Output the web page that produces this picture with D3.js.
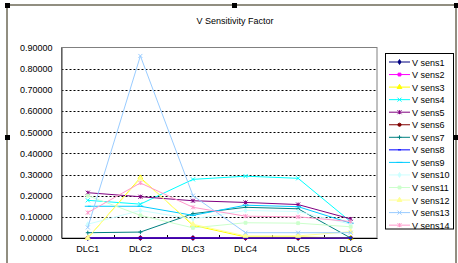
<!DOCTYPE html>
<html>
<head>
<meta charset="utf-8">
<script src="https://cdn.jsdelivr.net/npm/d3@7"></script>
<style>
  body { margin: 0; background: #fff; }
  text { font-family: "Liberation Sans", Arial, sans-serif; font-size: 9px; fill: #000; }
</style>
</head>
<body>
<div id="chart"></div>
<script>
var categories = ["DLC1", "DLC2", "DLC3", "DLC4", "DLC5", "DLC6"];
var seriesNames = ["V sens1", "V sens2", "V sens3", "V sens4", "V sens5", "V sens6", "V sens7",
                   "V sens8", "V sens9", "V sens10", "V sens11", "V sens12", "V sens13", "V sens14"];
var sens1  = [0, 0, 0, 0, 0, 0];
var sens2  = [0, 0, 0, 0, 0, 0];
var sens3  = [0, 0.285, 0.06, 0.005, 0.005, 0];
var sens4  = [0.178, 0.16, 0.277, 0.292, 0.282, 0.077];
var sens5  = [0.214, 0.195, 0.176, 0.168, 0.158, 0.09];
var sens6  = [0, 0, 0, 0, 0, 0];
var sens7  = [0.025, 0.028, 0.115, 0.145, 0.138, 0];
var sens8  = [0, 0, 0, 0, 0, 0];
var sens9  = [0.15, 0.15, 0.107, 0.155, 0.148, 0.07];
var sens10 = [0.065, 0.13, 0.09, 0.13, 0.125, 0.065];
var sens11 = [0.2, 0.107, 0.048, 0.072, 0.07, 0.053];
var sens12 = [0, 0.28, 0.065, 0.01, 0.01, 0.03];
var sens13 = [0.05, 0.86, 0.2, 0.025, 0.025, 0.025];
var sens14 = [0.12, 0.26, 0.145, 0.103, 0.1, 0.078];
var yTicks = [0, 0.1, 0.2, 0.3, 0.4, 0.5, 0.6, 0.7, 0.8, 0.9];

var seriesValues = [sens1, sens2, sens3, sens4, sens5, sens6, sens7,
                    sens8, sens9, sens10, sens11, sens12, sens13, sens14];
var colors = ["#000080", "#ff00ff", "#ffff00", "#00ffff", "#800080", "#800000", "#008080",
              "#0000ff", "#00ccff", "#ccffff", "#ccffcc", "#ffff99", "#99ccff", "#ff99cc"];
var markers = ["diamond", "square", "triangle", "x", "star", "circle", "plus",
               "dash", "longdash", "diamond", "square", "triangle", "x", "star"];

var width = 458, height = 263;
var svg = d3.select("#chart").append("svg")
    .attr("width", width)
    .attr("height", height);

// chart frame (selected Excel chart)
svg.append("rect").attr("x", 7).attr("y", 5).attr("width", 449).attr("height", 262)
    .attr("fill", "#fff").attr("stroke", "#6e6a58").attr("stroke-width", 1.5);

var plot = { left: 61.5, right: 377, top: 47.5, bottom: 238 };
var x = d3.scaleBand().domain(categories).range([plot.left, plot.right]);
var y = d3.scaleLinear().domain([0, 0.9]).range([plot.bottom, plot.top]);

// gridlines
svg.append("g").selectAll("line").data(yTicks.filter(function(d) { return d > 0 && d < 0.9; }))
    .enter().append("line")
    .attr("x1", plot.left).attr("x2", plot.right)
    .attr("y1", function(d) { return Math.round(y(d)) + 0.5; })
    .attr("y2", function(d) { return Math.round(y(d)) + 0.5; })
    .attr("stroke", "#000").attr("stroke-dasharray", "2,2");

// plot border
svg.append("rect").attr("x", plot.left).attr("y", plot.top)
    .attr("width", plot.right - plot.left).attr("height", plot.bottom - plot.top)
    .attr("fill", "none").attr("stroke", "#808080");

// y axis
var yAxis = svg.append("g").attr("transform", "translate(" + plot.left + ",0)")
    .call(d3.axisLeft(y).tickValues(yTicks).tickFormat(d3.format(".5f")).tickSize(0).tickPadding(9));
yAxis.select(".domain").attr("stroke", "#404040");
yAxis.selectAll("text").style("font-family", "Liberation Sans, Arial, sans-serif").style("font-size", "9px");

// x axis
var xAxis = svg.append("g").attr("transform", "translate(0," + plot.bottom + ")")
    .call(d3.axisBottom(x).tickSize(0).tickPadding(8));
xAxis.select(".domain").attr("stroke", "#000");
xAxis.selectAll("text").style("font-family", "Liberation Sans, Arial, sans-serif").style("font-size", "9px");
svg.append("g").selectAll("line").data(categories.slice(1))
    .enter().append("line")
    .attr("x1", function(d) { return Math.round(x(d)) + 0.5; })
    .attr("x2", function(d) { return Math.round(x(d)) + 0.5; })
    .attr("y1", plot.bottom).attr("y2", plot.bottom - 3)
    .attr("stroke", "#000");

function markerPath(type) {
    var p = d3.path();
    var r = 2;
    if (type === "diamond") return d3.symbol(d3.symbolDiamond, 7)();
    if (type === "square") return d3.symbol(d3.symbolSquare, 8)();
    if (type === "triangle") return d3.symbol(d3.symbolTriangle, 10)();
    if (type === "circle") return d3.symbol(d3.symbolCircle, 8)();
    if (type === "x" || type === "star") {
        p.moveTo(-r, -r); p.lineTo(r, r);
        p.moveTo(-r, r); p.lineTo(r, -r);
        if (type === "star") { p.moveTo(0, -r); p.lineTo(0, r); }
        return p.toString();
    }
    if (type === "plus") {
        p.moveTo(-r, 0); p.lineTo(r, 0);
        p.moveTo(0, -r); p.lineTo(0, r);
        return p.toString();
    }
    if (type === "dash") { p.moveTo(-1.5, 0); p.lineTo(1.5, 0); return p.toString(); }
    p.moveTo(-3, 0); p.lineTo(3, 0);
    return p.toString();
}

var line = d3.line()
    .x(function(d, i) { return x(categories[i]) + x.bandwidth() / 2; })
    .y(function(d) { return y(d); });

var series = seriesValues.map(function(vals, k) {
    return { name: seriesNames[k], values: vals, color: colors[k], marker: markers[k] };
});

var lines = svg.append("g").selectAll("g").data(series).enter().append("g");
lines.append("path")
    .attr("d", function(d) { return line(d.values); })
    .attr("fill", "none")
    .attr("stroke", function(d) { return d.color; })
    .attr("stroke-width", 1);
lines.selectAll(".mk").data(function(d) {
        return d.values.map(function(v, i) { return { v: v, i: i, s: d }; });
    })
    .enter().append("path").attr("class", "mk")
    .attr("transform", function(d) {
        return "translate(" + (x(categories[d.i]) + x.bandwidth() / 2) + "," + y(d.v) + ")";
    })
    .attr("d", function(d) { return markerPath(d.s.marker); })
    .attr("fill", function(d) { return d.s.color; })
    .attr("stroke", function(d) { return d.s.color; })
    .attr("stroke-width", 1);

// legend
var legend = svg.append("g");
legend.append("rect").attr("x", 385.5).attr("y", 53.5).attr("width", 68).attr("height", 175.5)
    .attr("fill", "#fff").attr("stroke", "#000");
var items = legend.selectAll("g.item").data(series).enter().append("g").attr("class", "item")
    .attr("transform", function(d, i) { return "translate(0," + (62 + i * 12.55) + ")"; });
items.append("line").attr("x1", 389).attr("x2", 410).attr("y1", 0).attr("y2", 0)
    .attr("stroke", function(d) { return d.color; });
items.append("path").attr("transform", "translate(399.5,0)")
    .attr("d", function(d) { return markerPath(d.marker); })
    .attr("fill", function(d) { return d.color; })
    .attr("stroke", function(d) { return d.color; });
items.append("text").attr("x", 412).attr("y", 3.5).text(function(d) { return d.name; });

// title
svg.append("text").attr("x", 235).attr("y", 24).attr("text-anchor", "middle")
    .text("V Sensitivity Factor");

// selection handles
var handles = [[7, 5], [234, 5], [456, 5], [7, 137], [456, 137]];
svg.append("g").selectAll("rect").data(handles).enter().append("rect")
    .attr("x", function(d) { return d[0] - 2; }).attr("y", function(d) { return d[1] - 2; })
    .attr("width", 5).attr("height", 5).attr("fill", "#000");
</script>
</body>
</html>
